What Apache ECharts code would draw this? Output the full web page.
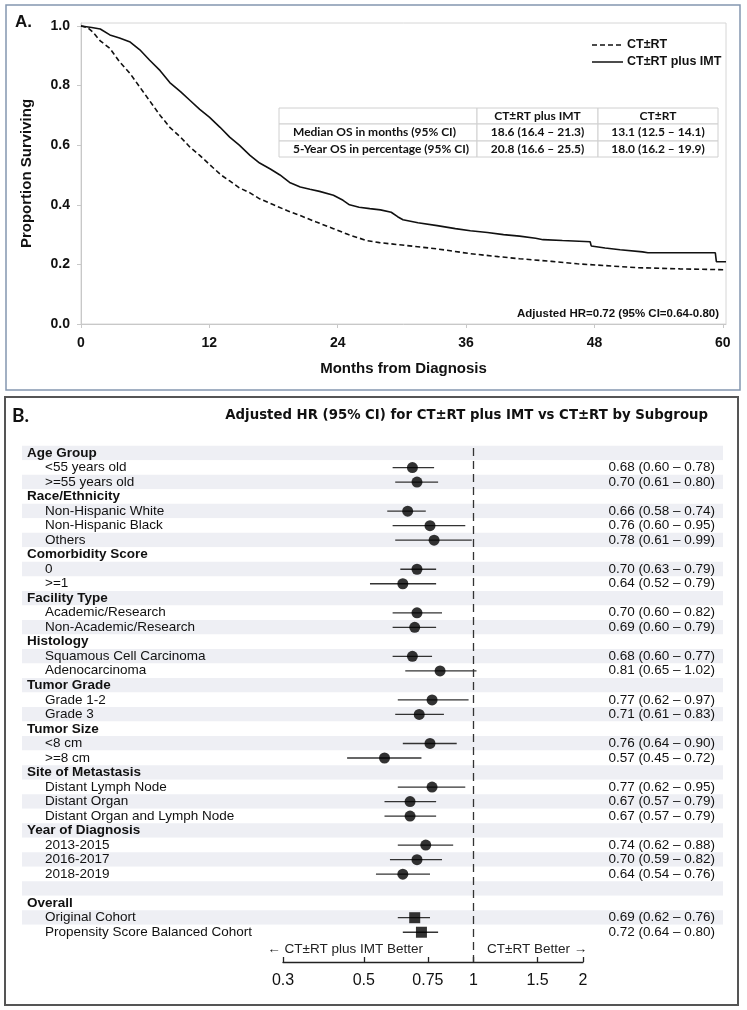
<!DOCTYPE html>
<html><head><meta charset="utf-8">
<script src="https://cdn.jsdelivr.net/npm/echarts@6/dist/echarts.min.js"></script>
<style>html,body{margin:0;padding:0;background:#fff}#c{width:747px;height:1010px}</style>
</head><body><div id="c"></div>
<script>
// ---------- Panel A: Kaplan-Meier data ----------
const monthsIMT = [0,1.0,1.8,2.7,3.6,4.6,5.5,6.4,7.4,8.3,9.3,10.2,11.1,12.0,13.0,13.9,14.8,15.8,16.7,17.7,18.6,19.5,20.5,21.4,22.3,23.6,24.5,25.1,26.0,27.0,28.0,29.0,29.6,30.1,31.5,33.3,35.0,36.4,38.0,39.5,41.0,42.5,43.2,45.0,47.6,47.7,49.0,50.4,52.5,53.0,59.3,59.4,60.3];
const survIMT   = [1.0,0.995,0.99,0.97,0.96,0.946,0.92,0.886,0.85,0.81,0.78,0.75,0.72,0.694,0.66,0.627,0.60,0.566,0.54,0.52,0.50,0.475,0.46,0.452,0.445,0.432,0.415,0.40,0.392,0.387,0.383,0.375,0.36,0.35,0.34,0.33,0.32,0.313,0.307,0.30,0.295,0.288,0.283,0.28,0.276,0.262,0.255,0.249,0.242,0.239,0.239,0.209,0.209];
const monthsCT  = [0,0.6,1.1,1.8,2.7,3.6,4.6,5.5,6.4,7.4,8.3,9.3,10.2,11.1,12.3,13.1,13.9,14.8,15.8,16.7,18.0,19.3,20.5,22.0,23.6,25.0,26.7,27.9,30.0,33.3,36.4,39.0,41.0,44.0,46.4,49.0,52.0,56.0,60.3];
const survCT    = [1.0,0.995,0.98,0.95,0.925,0.88,0.84,0.795,0.75,0.70,0.66,0.627,0.593,0.566,0.526,0.50,0.48,0.457,0.44,0.42,0.40,0.38,0.364,0.342,0.32,0.30,0.28,0.273,0.265,0.252,0.236,0.226,0.219,0.21,0.202,0.196,0.189,0.185,0.182];
const kmTicksX = [0,12,24,36,48,60];
const kmTicksY = [0,0.2,0.4,0.6,0.8,1.0];
const legendNames = ['CT±RT', 'CT±RT plus IMT'];
const tableHeader = ['', 'CT±RT plus IMT', 'CT±RT'];
const tableRows = [
  ['Median OS in months (95% CI)', '18.6 (16.4 – 21.3)', '13.1 (12.5 – 14.1)'],
  ['5-Year OS in percentage (95% CI)', '20.8 (16.6 – 25.5)', '18.0 (16.2 – 19.9)']
];

// ---------- Panel B: forest plot data ----------
const subgroupLabels = ['Age Group','<55 years old','>=55 years old','Race/Ethnicity','Non-Hispanic White','Non-Hispanic Black','Others','Comorbidity Score','0','>=1','Facility Type','Academic/Research','Non-Academic/Research','Histology','Squamous Cell Carcinoma','Adenocarcinoma','Tumor Grade','Grade 1-2','Grade 3','Tumor Size','<8 cm','>=8 cm','Site of Metastasis','Distant Lymph Node','Distant Organ','Distant Organ and Lymph Node','Year of Diagnosis','2013-2015','2016-2017','2018-2019','','Overall','Original Cohort','Propensity Score Balanced Cohort'];
const isHeader = [1,0,0,1,0,0,0,1,0,0,1,0,0,1,0,0,1,0,0,1,0,0,1,0,0,0,1,0,0,0,1,1,0,0];
const hr     = [null,0.68,0.70,null,0.66,0.76,0.78,null,0.70,0.64,null,0.70,0.69,null,0.68,0.81,null,0.77,0.71,null,0.76,0.57,null,0.77,0.67,0.67,null,0.74,0.70,0.64,null,null,0.69,0.72];
const ciLow  = [null,0.60,0.61,null,0.58,0.60,0.61,null,0.63,0.52,null,0.60,0.60,null,0.60,0.65,null,0.62,0.61,null,0.64,0.45,null,0.62,0.57,0.57,null,0.62,0.59,0.54,null,null,0.62,0.64];
const ciHigh = [null,0.78,0.80,null,0.74,0.95,0.99,null,0.79,0.79,null,0.82,0.79,null,0.77,1.02,null,0.97,0.83,null,0.90,0.72,null,0.95,0.79,0.79,null,0.88,0.82,0.76,null,null,0.76,0.80];
const markerShape = ['','circle','circle','','circle','circle','circle','','circle','circle','','circle','circle','','circle','circle','','circle','circle','','circle','circle','','circle','circle','circle','','circle','circle','circle','','','square','square'];
const hrTicks = [0.3,0.5,0.75,1,1.5,2];

const FONT = 'Liberation Sans, Arial, sans-serif';
const f2 = v => v.toFixed(2);
const rowIdx = subgroupLabels.map((_, i) => i).filter(i => hr[i] != null);
const ciData = rowIdx.map(i => [ciLow[i], i, ciHigh[i]]);
const circleData = rowIdx.filter(i => markerShape[i] === 'circle').map(i => [hr[i], i]);
const squareData = rowIdx.filter(i => markerShape[i] === 'square').map(i => [hr[i], i]);
const valueLabels = subgroupLabels.map((_, i) => hr[i] != null ? `${f2(hr[i])} (${f2(ciLow[i])} – ${f2(ciHigh[i])})` : '');

// ---------- table graphic ----------
const colX = [279, 477, 598, 718];
const rowY = [108, 124, 141, 157];
const tableEls = [];
const allRows = [tableHeader].concat(tableRows);
allRows.forEach((r, ri) => {
  r.forEach((txt, ci) => {
    tableEls.push({type:'rect', shape:{x:colX[ci], y:rowY[ri], width:colX[ci+1]-colX[ci], height:rowY[ri+1]-rowY[ri]},
      style:{fill:'#fff', stroke:'#d0d0d0', lineWidth:1}, z:10});
    if (txt) {
      const left = ci === 0;
      tableEls.push({type:'text', z:11,
        x: left ? colX[0] + 14 : (colX[ci] + colX[ci+1]) / 2,
        y: (rowY[ri] + rowY[ri+1]) / 2,
        style:{text:txt, font:'bold 12px Lato, sans-serif', fill:'#111', align: left ? 'left' : 'center', verticalAlign:'middle'}});
    }
  });
});

// ---------- legend graphic (line samples) ----------
const legendEls = [];
legendNames.forEach((nm, i) => {
  const y = 45 + i * 17;
  legendEls.push({type:'line', shape:{x1:592, y1:y, x2:623, y2:y},
    style:{stroke:'#111', lineWidth:1.5, lineDash: i === 0 ? [5,3] : null}});
  legendEls.push({type:'text', x:627, y:y, style:{text:nm, font:'bold 12.5px ' + FONT, fill:'#111', verticalAlign:'middle'}});
});

const chart = echarts.init(document.getElementById('c'), null, {renderer:'canvas'});
const bandsTop = 445.7, rowH = 14.52;
chart.setOption({
  animation:false,
  backgroundColor:'#fff',
  textStyle:{fontFamily:FONT},
  grid:[
    {left:81, right:21, top:23, bottom:686, show:true, borderColor:'#d6d6d6', borderWidth:1},
    {left:22, right:24, top:bandsTop, height:rowH*subgroupLabels.length},
    {left:283, right:164, top:448, bottom:48}
  ],
  xAxis:[
    {gridIndex:0, type:'value', min:0, max:60.3,
     name:'Months from Diagnosis', nameLocation:'middle', nameGap:37,
     nameTextStyle:{fontFamily:FONT, fontSize:15, fontWeight:'bold', color:'#111'},
     axisLine:{lineStyle:{color:'#c8c8c8'}},
     axisTick:{length:4, lineStyle:{color:'#c8c8c8'}, customValues:kmTicksX},
     axisLabel:{customValues:kmTicksX, fontSize:14, fontWeight:'bold', color:'#111', margin:12},
     splitLine:{show:false}},
    {gridIndex:1, type:'value', min:0, max:1, show:false},
    {gridIndex:2, type:'log', logBase:10, min:0.3, max:2,
     axisLine:{onZero:false, lineStyle:{color:'#222', width:1.3}},
     axisTick:{inside:true, length:5, lineStyle:{color:'#222', width:1.3}, customValues:hrTicks},
     axisLabel:{customValues:hrTicks, fontSize:16, color:'#111', margin:11, formatter: v => String(+(+v).toFixed(2))},
     splitLine:{show:false}, minorTick:{show:false}}
  ],
  yAxis:[
    {gridIndex:0, type:'value', min:0, max:1.01,
     name:'Proportion Surviving', nameLocation:'middle', nameGap:47, nameRotate:90,
     nameTextStyle:{fontFamily:FONT, fontSize:15, fontWeight:'bold', color:'#111'},
     axisLine:{show:true, lineStyle:{color:'#c8c8c8'}},
     axisTick:{show:true, length:4, lineStyle:{color:'#c8c8c8'}, customValues:kmTicksY},
     axisLabel:{customValues:kmTicksY, fontSize:14, fontWeight:'bold', color:'#111', margin:11, formatter: v => (+v).toFixed(1)},
     splitLine:{show:false}},
    {gridIndex:1, type:'category', inverse:true, data:subgroupLabels,
     axisLine:{show:false}, axisTick:{show:false},
     splitArea:{show:true, areaStyle:{color:['#eeeff4','#ffffff']}},
     axisLabel:{inside:true, margin:5, interval:0, color:'#111', fontSize:13.5,
       formatter:(v, i) => isHeader[i] ? '{h|' + v + '}' : '{s|' + v + '}',
       rich:{h:{fontWeight:'bold', fontSize:13.5, color:'#111'}, s:{fontSize:13.5, color:'#111', padding:[0,0,0,18]}}}},
    {gridIndex:1, type:'category', inverse:true, position:'right', data:valueLabels,
     axisLine:{show:false}, axisTick:{show:false}, splitArea:{show:false},
     axisLabel:{inside:true, margin:8, interval:0, color:'#111', fontSize:13.5}},
    {gridIndex:2, type:'value', min:-0.35, max:35.05, inverse:true, show:false}
  ],
  series:[
    {name:'CT±RT plus IMT', type:'line', xAxisIndex:0, yAxisIndex:0, showSymbol:false, symbol:'none',
     data:monthsIMT.map((m, i) => [m, survIMT[i]]), lineStyle:{color:'#111', width:1.6}, itemStyle:{color:'#111'}},
    {name:'CT±RT', type:'line', xAxisIndex:0, yAxisIndex:0, showSymbol:false, symbol:'none',
     data:monthsCT.map((m, i) => [m, survCT[i]]), lineStyle:{color:'#111', width:1.6, type:[5,3]}, itemStyle:{color:'#111'}},
    {type:'custom', xAxisIndex:2, yAxisIndex:3, data:ciData, encode:{x:[0,2], y:1},
     renderItem:(params, api) => {
       const a = api.coord([api.value(0), api.value(1)]);
       const b = api.coord([api.value(2), api.value(1)]);
       return {type:'line', shape:{x1:a[0], y1:a[1], x2:b[0], y2:b[1]}, style:{stroke:'#333', lineWidth:1.3}};
     },
     markLine:{silent:true, symbol:'none', label:{show:false},
       lineStyle:{color:'#333', type:[8,5], width:1.3}, data:[{xAxis:1}]}},
    {type:'scatter', xAxisIndex:2, yAxisIndex:3, data:circleData, symbol:'circle', symbolSize:11,
     itemStyle:{color:'#000'}, z:5},
    {type:'scatter', xAxisIndex:2, yAxisIndex:3, data:squareData, symbol:'rect', symbolSize:11,
     itemStyle:{color:'#000'}, z:5}
  ],
  graphic:[
    {type:'rect', shape:{x:6, y:5, width:734, height:385}, style:{fill:'none', stroke:'#8497b0', lineWidth:1.5}, z:20},
    {type:'rect', shape:{x:5, y:397, width:733, height:608}, style:{fill:'none', stroke:'#555', lineWidth:2}, z:20},
    {type:'text', x:15, y:22, style:{text:'A.', font:'bold 17px ' + FONT, fill:'#111', verticalAlign:'middle'}},
    {type:'text', x:12, y:416, style:{text:'B.', font:'bold 19px Lato, sans-serif', fill:'#111', verticalAlign:'middle'}},
    {type:'text', x:719, y:314, style:{text:'Adjusted HR=0.72 (95% CI=0.64-0.80)', font:'bold 11.5px ' + FONT, fill:'#111', align:'right', verticalAlign:'middle'}},
    {type:'text', x:708, y:416, style:{text:'Adjusted HR (95% CI) for CT±RT plus IMT vs CT±RT by Subgroup', font:'bold 13.3px DejaVu Sans, sans-serif', fill:'#111', align:'right', verticalAlign:'middle'}},
    {type:'text', x:423, y:949, style:{text:'← CT±RT plus IMT Better', font:'13.5px ' + FONT, fill:'#222', align:'right', verticalAlign:'middle'}},
    {type:'text', x:487, y:949, style:{text:'CT±RT Better →', font:'13.5px ' + FONT, fill:'#222', align:'left', verticalAlign:'middle'}}
  ].concat(tableEls, legendEls)
});
</script></body></html>
